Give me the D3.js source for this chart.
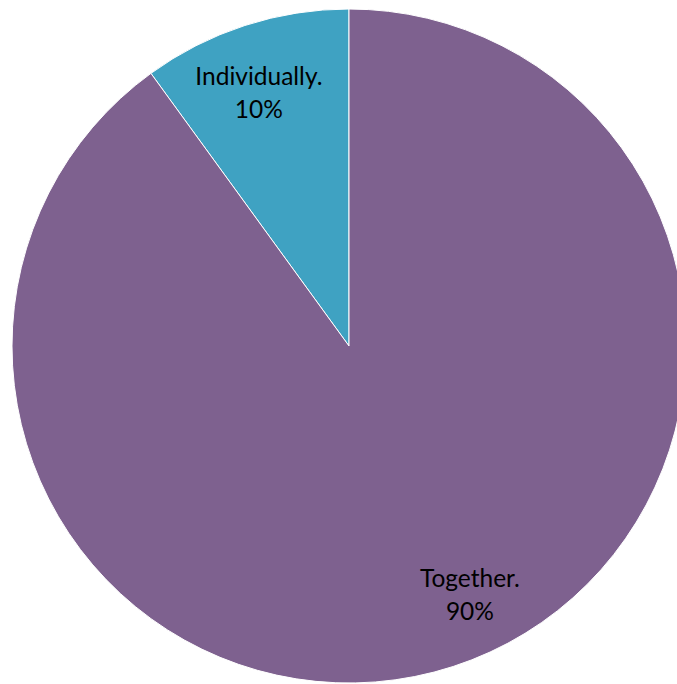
<!DOCTYPE html>
<html><head><meta charset="utf-8">
<script src="https://cdn.jsdelivr.net/npm/d3@7"></script>
<style>body{margin:0;background:#fff}svg{display:block}</style>
</head><body>
<svg id="c" width="677" height="684"></svg>
<script>
const categories = ["Individually.", "Together."];
const values = [10, 90];
const labels = ["10%", "90%"];
const colors = ["#3FA2C2", "#7E618F"];

const svg = d3.select("#c");
const cx = 349, cy = 346, r = 337;
const g = svg.append("g").attr("transform", `translate(${cx},${cy})`);
const pie = d3.pie().sort(null).startAngle(-2 * Math.PI * values[0] / 100).endAngle(2 * Math.PI - 2 * Math.PI * values[0] / 100);
const arcs = pie(values);
const arc = d3.arc().innerRadius(0).outerRadius(r);
g.selectAll("path").data(arcs).enter().append("path")
  .attr("d", arc).attr("fill", (d, i) => colors[i])
  .attr("stroke", "#fff").attr("stroke-width", 1);

// label placement (angle in degrees clockwise from top, radius)
const place = [[-20.2, 261], [154.8, 284]];
arcs.forEach((d, i) => {
  const [x, y] = d3.pointRadial(place[i][0] * Math.PI / 180, place[i][1]);
  const t = g.append("text")
    .attr("text-anchor", "middle").attr("font-family", "Lato, 'Open Sans', sans-serif")
    .attr("font-size", 24.5).attr("fill", "#000");
  t.append("tspan").attr("x", x).attr("y", y - 16).text(categories[i]);
  t.append("tspan").attr("x", x).attr("y", y + 17).text(labels[i]);
});
</script>
</body></html>
